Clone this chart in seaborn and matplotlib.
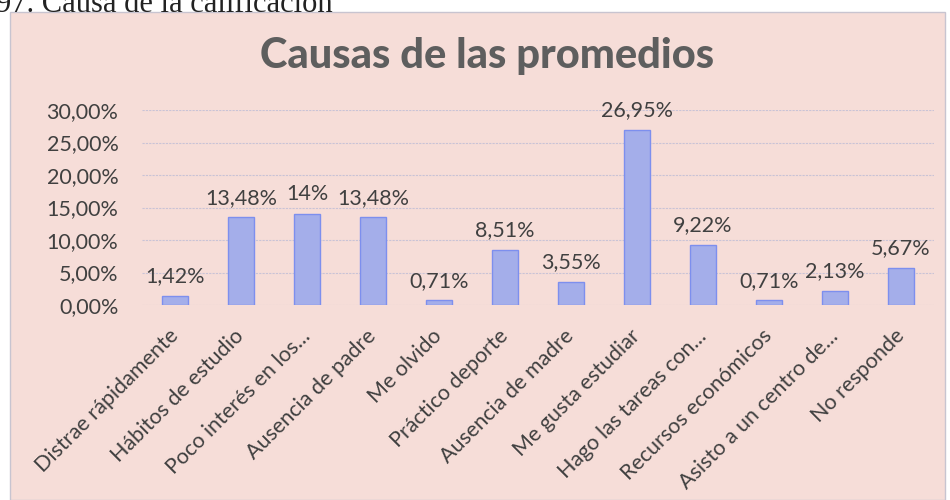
import matplotlib
matplotlib.use("Agg")
import matplotlib.pyplot as plt
import matplotlib.transforms as mtransforms
import seaborn as sns
import pandas as pd
from matplotlib.patches import Rectangle

categories = ["Distrae rápidamente", "Hábitos de estudio", "Poco interés en los...",
              "Ausencia de padre", "Me olvido", "Práctico deporte", "Ausencia de madre",
              "Me gusta estudiar", "Hago las tareas con...", "Recursos económicos",
              "Asisto a un centro de...", "No responde"]
values = [1.42, 13.48, 14.0, 13.48, 0.71, 8.51, 3.55, 26.95, 9.22, 0.71, 2.13, 5.67]
value_labels = ["1,42%", "13,48%", "14%", "13,48%", "0,71%", "8,51%", "3,55%",
                "26,95%", "9,22%", "0,71%", "2,13%", "5,67%"]
yticks = [0, 5, 10, 15, 20, 25, 30]
ytick_labels = ["0,00%", "5,00%", "10,00%", "15,00%", "20,00%", "25,00%", "30,00%"]
title = "Causas de las promedios"
caption = "97. Causa de la calificación"

sns.set_theme(style="white")
plt.rcParams['font.family'] = ['Lato', 'DejaVu Sans']

pink = "#f6ddd8"
fig = plt.figure(figsize=(9.5, 5.0), dpi=100, facecolor="white")
# chart frame
fig.patches.append(Rectangle((10/950, 0), 935/950, 488/500, transform=fig.transFigure,
                             facecolor=pink, edgecolor="#c8c4d0", linewidth=1.0, zorder=-5))
fig.text(-4/950, 1 - 5/500, caption, family="Liberation Serif", fontsize=22,
         color="#222222", ha="left", va="center")

ax = fig.add_axes([142/950, 1 - 305/500, 792/950, 195/500])
ax.set_facecolor("none")
df = pd.DataFrame({"cat": categories, "val": values})
sns.barplot(data=df, x="cat", y="val", ax=ax, color="#a4aeea", edgecolor="#7d8fee",
            linewidth=1.0, width=0.4, saturation=1)
ax.set_ylim(0, 30)
ax.set_xlim(-0.5, len(categories) - 0.5)
ax.set_yticks(yticks)
ax.set_yticklabels(ytick_labels, fontsize=15.5, color="#404040")
ax.yaxis.grid(True, color="#c9c3d6", linewidth=0.8, linestyle=(0, (2, 1)))
ax.set_axisbelow(True)
for s in ax.spines.values():
    s.set_visible(False)
ax.tick_params(axis="y", length=0, pad=17)
ax.tick_params(axis="x", length=0, pad=15)
ax.set_xticks(range(len(categories)))
ax.set_xticklabels(categories, rotation=45, ha="right", rotation_mode="anchor",
                   fontsize=15.5, color="#404040")
shift = mtransforms.ScaledTranslation(-7/100, 0, fig.dpi_scale_trans)
for lbl in ax.get_xticklabels():
    lbl.set_transform(lbl.get_transform() + shift)
ax.set_xlabel("")
ax.set_ylabel("")
for i, (v, lab) in enumerate(zip(values, value_labels)):
    ax.annotate(lab, (i, v), xytext=(0, 7), textcoords="offset points",
                ha="center", va="bottom", fontsize=15.5, color="#404040")

fig.text(487/950, 1 - 56/500, title, ha="center", va="center", fontsize=30,
         fontweight="black", color="#5e5e5e")

fig.savefig("out.png", dpi=100, facecolor="white")
